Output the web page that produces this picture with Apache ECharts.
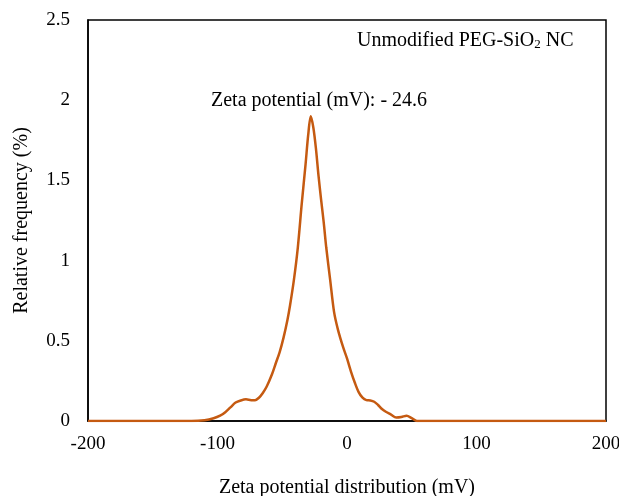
<!DOCTYPE html>
<html>
<head>
<meta charset="utf-8">
<script src="https://cdn.jsdelivr.net/npm/echarts@6/dist/echarts.min.js"></script>
<style>html,body{margin:0;padding:0;background:#fff;}#c{width:619px;height:496px;}</style>
</head>
<body>
<div id="c"></div>
<script>
// Zeta potential (mV)
var zetaMv = [-200, -150, -120, -110, -103, -98, -94, -90, -86, -82, -78, -74, -71, -68, -65, -62, -58, -55, -52, -49, -46, -44, -41, -38, -35, -32, -30, -28, -26, -24, -22, -20, -18, -16, -13, -10, -7, -3, 0, 3, 6, 9, 12, 15, 18, 21, 24, 27, 30, 34, 38, 42, 46, 50, 54, 100, 150, 200];
// Relative frequency (%)
var relFreq = [0, 0, 0, 0.005, 0.017, 0.033, 0.055, 0.085, 0.115, 0.128, 0.135, 0.13, 0.13, 0.145, 0.175, 0.215, 0.29, 0.36, 0.43, 0.52, 0.63, 0.72, 0.88, 1.08, 1.35, 1.60, 1.78, 1.90, 1.83, 1.70, 1.53, 1.38, 1.24, 1.08, 0.88, 0.68, 0.57, 0.46, 0.39, 0.31, 0.24, 0.18, 0.145, 0.13, 0.128, 0.12, 0.1, 0.075, 0.058, 0.04, 0.022, 0.025, 0.033, 0.018, 0, 0, 0, 0];
var xTicks = [-200, -100, 0, 100, 200];
var yTicks = [0, 0.5, 1, 1.5, 2, 2.5];

var pts = zetaMv.map(function (x, i) { return [x, relFreq[i]]; });
var font = '"Liberation Serif", "Times New Roman", serif';
var chart = echarts.init(document.getElementById('c'), null, {renderer: 'canvas'});
chart.setOption({
  animation: false,
  backgroundColor: '#fff',
  grid: {left: 88, right: 13, top: 20, bottom: 75, outerBoundsMode: 'none', containLabel: false, show: true, borderColor: '#000', borderWidth: 1.5, backgroundColor: 'transparent'},
  xAxis: {
    type: 'value', min: xTicks[0], max: xTicks[xTicks.length - 1], interval: 100,
    name: 'Zeta potential distribution (mV)', nameLocation: 'middle', nameGap: 57,
    nameTextStyle: {fontFamily: font, fontSize: 20, color: '#000'},
    axisLine: {show: true, onZero: false, lineStyle: {color: '#000', width: 1.5}},
    axisTick: {show: false}, splitLine: {show: false},
    axisLabel: {fontFamily: font, fontSize: 19, color: '#000', margin: 14}
  },
  yAxis: {
    type: 'value', min: yTicks[0], max: yTicks[yTicks.length - 1], interval: 0.5,
    name: 'Relative frequency (%)', nameLocation: 'middle', nameGap: 56,
    nameTextStyle: {fontFamily: font, fontSize: 20, color: '#000'},
    axisLine: {show: true, onZero: false, lineStyle: {color: '#000', width: 1.5}},
    axisTick: {show: false}, splitLine: {show: false},
    axisLabel: {fontFamily: font, fontSize: 19, color: '#000', margin: 18}
  },
  series: [{
    type: 'line', data: pts, smooth: 0.3, showSymbol: false,
    lineStyle: {color: '#C55A11', width: 2.5}
  }],
  graphic: [
    {type: 'text', left: 357, top: 31, style: {
      text: '{a|Unmodified PEG-SiO}{s|2}{a| NC}',
      rich: {a: {fontFamily: font, fontSize: 20, fill: '#000'}, s: {fontFamily: font, fontSize: 13, fill: '#000', padding: [8, 0, 0, 0]}}
    }},
    {type: 'text', left: 211, top: 91, style: {
      text: 'Zeta potential (mV): - 24.6', fontFamily: font, fontSize: 20, fill: '#000'
    }}
  ]
});
</script>
</body>
</html>
